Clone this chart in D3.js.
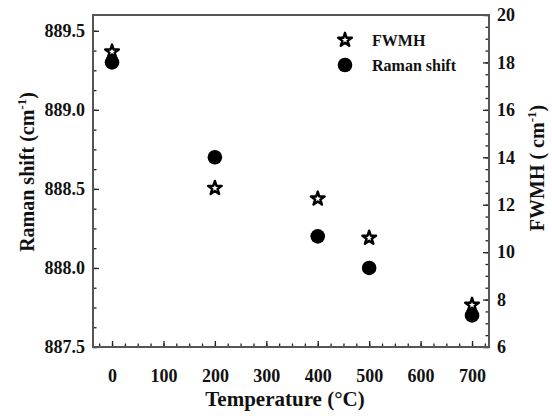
<!DOCTYPE html>
<html>
<head>
<meta charset="utf-8">
<script src="https://cdn.jsdelivr.net/npm/d3@7"></script>
<style>
  body { margin: 0; background: #fff; }
  text { font-family: "Liberation Serif", "Times New Roman", serif; font-weight: bold; fill: #111; }
</style>
</head>
<body>
<svg id="chart"></svg>
<script>
// data
var temperatures = [0, 200, 400, 500, 700]
var ramanShift = [889.3, 888.7, 888.2, 888.0, 887.7]
var fwmh = [18.45, 12.7, 12.25, 10.6, 7.77]
var xTicks = [0, 100, 200, 300, 400, 500, 600, 700]
var leftTicks = [887.5, 888.0, 888.5, 889.0, 889.5]
var rightTicks = [6, 8, 10, 12, 14, 16, 18, 20]

var dimensions = {
    width: 552,
    height: 416,
    margin: { top: 15, bottom: 69, right: 63, left: 93 }
}

var svg = d3.select("#chart")
    .attr("width", dimensions.width)
    .attr("height", dimensions.height)

var x0 = dimensions.margin.left, x1 = dimensions.width - dimensions.margin.right
var y0 = dimensions.height - dimensions.margin.bottom, y1 = dimensions.margin.top

var xScale = d3.scaleLinear().domain([-37, 733]).range([x0, x1])
var yLeft = d3.scaleLinear().domain([887.5, 889.6]).range([y0, y1])
var yRight = d3.scaleLinear().domain([6, 20]).range([y0, y1])

// minor ticks first, then major ones on top
function minors(lo, hi, step) {
    var out = []
    for (var v = lo; v <= hi + 1e-9; v += step) out.push(+v.toFixed(4))
    return out
}

svg.append("g")
    .attr("transform", "translate(0," + y0 + ")")
    .call(d3.axisTop(xScale).tickValues(minors(-25, 725, 25)).tickSize(3.5).tickFormat(""))
svg.append("g")
    .attr("class", "x axis")
    .attr("transform", "translate(0," + y0 + ")")
    .call(d3.axisTop(xScale).tickValues(xTicks).tickSize(6).tickFormat(d3.format("d")))
    .selectAll("text")
    .attr("y", 22)
    .attr("dy", "0.7em")
    .style("font-size", "18px")

svg.append("g")
    .attr("transform", "translate(" + x0 + ",0)")
    .call(d3.axisRight(yLeft).tickValues(minors(887.5, 889.5, 0.125)).tickSize(3.5).tickFormat(""))
svg.append("g")
    .attr("class", "y axis")
    .attr("transform", "translate(" + x0 + ",0)")
    .call(d3.axisRight(yLeft).tickValues(leftTicks).tickSize(6).tickFormat(d3.format(".1f")))
    .selectAll("text")
    .attr("x", -8)
    .attr("text-anchor", "end")
    .style("font-size", "18px")

svg.append("g")
    .attr("transform", "translate(" + x1 + ",0)")
    .call(d3.axisLeft(yRight).tickValues(minors(6, 20, 0.5)).tickSize(3.5).tickFormat(""))
svg.append("g")
    .attr("class", "y axis")
    .attr("transform", "translate(" + x1 + ",0)")
    .call(d3.axisLeft(yRight).tickValues(rightTicks).tickSize(6))
    .selectAll("text")
    .attr("x", 8)
    .attr("text-anchor", "start")
    .style("font-size", "18px")

svg.selectAll(".domain").remove()
svg.selectAll(".tick line").attr("stroke", "#222").attr("stroke-width", 1.3)

// frame
svg.append("rect")
    .attr("x", x0).attr("y", y1)
    .attr("width", x1 - x0).attr("height", y0 - y1)
    .attr("fill", "none")
    .attr("stroke", "#555")
    .attr("stroke-width", 2)

// axis titles
svg.append("text")
    .attr("x", (x0 + x1) / 2 - 6)
    .attr("y", 406)
    .attr("text-anchor", "middle")
    .style("font-size", "21px")
    .text("Temperature (°C)")

var lt = svg.append("text")
    .attr("transform", "translate(34," + 172 + ") rotate(-90)")
    .attr("text-anchor", "middle")
    .style("font-size", "20px")
lt.append("tspan").text("Raman shift (cm")
lt.append("tspan").attr("dy", -8).style("font-size", "13px").text("-1")
lt.append("tspan").attr("dy", 8).text(")")

var rt = svg.append("text")
    .attr("transform", "translate(544," + 168 + ") rotate(-90)")
    .attr("text-anchor", "middle")
    .style("font-size", "20px")
rt.append("tspan").text("FWMH ( cm")
rt.append("tspan").attr("dy", -8).style("font-size", "13px").text("-1")
rt.append("tspan").attr("dy", 8).text(")")

// marks
var star = d3.symbol().type(d3.symbolStar).size(58)

svg.append("g")
    .selectAll("circle")
    .data(temperatures)
    .enter()
    .append("circle")
    .attr("cx", d => xScale(d))
    .attr("cy", (d, i) => yLeft(ramanShift[i]))
    .attr("r", 7.3)
    .attr("fill", "black")

svg.append("g")
    .selectAll("path")
    .data(temperatures)
    .enter()
    .append("path")
    .attr("d", star)
    .attr("transform", (d, i) => "translate(" + xScale(d) + "," + yRight(fwmh[i]) + ")")
    .attr("fill", "white")
    .attr("stroke", "black")
    .attr("stroke-width", 2.4)
    .attr("stroke-linejoin", "round")

// legend
var legend = svg.append("g")
legend.append("path")
    .attr("d", star)
    .attr("transform", "translate(345,40)")
    .attr("fill", "white")
    .attr("stroke", "black")
    .attr("stroke-width", 2.4)
    .attr("stroke-linejoin", "round")
legend.append("circle")
    .attr("cx", 345).attr("cy", 65).attr("r", 7.3)
    .attr("fill", "black")
legend.append("text")
    .attr("x", 372).attr("y", 40).attr("dy", "0.35em")
    .style("font-size", "16px")
    .text("FWMH")
legend.append("text")
    .attr("x", 372).attr("y", 65).attr("dy", "0.35em")
    .style("font-size", "16px")
    .text("Raman shift")
</script>
</body>
</html>
